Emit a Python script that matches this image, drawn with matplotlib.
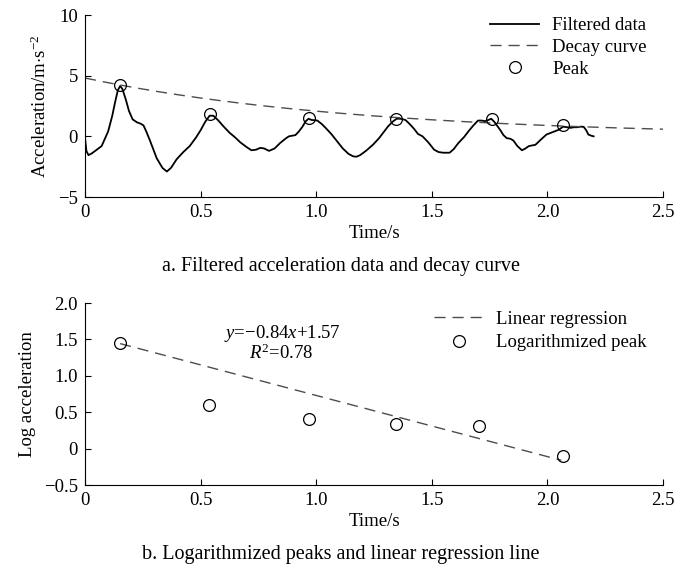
import numpy as np
import matplotlib.pyplot as plt

# filtered acceleration trace
time_s = [0.0, 0.006, 0.015, 0.03, 0.044, 0.072, 0.10, 0.118, 0.13, 0.142, 0.152, 0.162,
          0.177, 0.19, 0.206, 0.225, 0.24, 0.253, 0.265, 0.28, 0.31, 0.335, 0.354, 0.372,
          0.396, 0.425, 0.453, 0.48, 0.50, 0.52, 0.539, 0.555, 0.577, 0.60, 0.625,
          0.65, 0.672, 0.70, 0.72, 0.74, 0.758, 0.775, 0.796, 0.82, 0.844, 0.87,
          0.882, 0.91, 0.925, 0.939, 0.955, 0.967, 0.98, 1.005, 1.025, 1.043, 1.065,
          1.09, 1.115, 1.14, 1.16, 1.174, 1.19, 1.215, 1.245, 1.272, 1.29, 1.31,
          1.33, 1.348, 1.365, 1.386, 1.405, 1.424, 1.44, 1.46, 1.485, 1.51, 1.53,
          1.55, 1.577, 1.595, 1.615, 1.64, 1.66, 1.68, 1.70, 1.715, 1.73, 1.745,
          1.757, 1.77, 1.795, 1.81, 1.824, 1.84, 1.853, 1.87, 1.89, 1.905, 1.92,
          1.948, 1.97, 1.996, 2.03, 2.05, 2.068, 2.085, 2.10, 2.115, 2.129, 2.145,
          2.157, 2.168, 2.177, 2.19, 2.20]
accel = [-0.1, -1.2, -1.55, -1.4, -1.2, -0.8, 0.4, 1.7, 2.8, 3.8, 4.15, 3.9,
         3.0, 2.1, 1.4, 1.15, 1.05, 0.9, 0.4, -0.3, -1.8, -2.6, -2.9, -2.6,
         -1.9, -1.3, -0.8, -0.1, 0.5, 1.2, 1.7, 1.7, 1.3, 0.8, 0.3,
         -0.1, -0.5, -0.9, -1.15, -1.1, -0.95, -1.0, -1.2, -1.0, -0.55, -0.15,
         0.0, 0.1, 0.4, 0.75, 1.25, 1.45, 1.35, 1.3, 1.0, 0.65, 0.2,
         -0.4, -1.0, -1.45, -1.65, -1.68, -1.55, -1.2, -0.7, -0.15, 0.3, 0.8,
         1.2, 1.45, 1.45, 1.35, 1.0, 0.6, 0.2, 0.0, -0.5, -1.1, -1.3,
         -1.35, -1.35, -1.05, -0.55, -0.05, 0.45, 0.9, 1.3, 1.3, 1.25, 1.35,
         1.45, 1.2, 0.55, 0.1, -0.15, -0.2, -0.35, -0.8, -1.15, -1.0, -0.8,
         -0.7, -0.3, 0.15, 0.4, 0.55, 0.8, 0.75, 0.7, 0.75, 0.75, 0.8,
         0.78, 0.5, 0.15, 0.05, 0.0]

peak_t = [0.152, 0.539, 0.967, 1.344, 1.761, 2.068]
peak_a = [4.2, 1.85, 1.5, 1.4, 1.45, 0.9]

log_t = [0.152, 0.537, 0.967, 1.344, 1.704, 2.068]
log_a = [1.45, 0.605, 0.41, 0.34, 0.31, -0.10]

# fit shown in panel b
slope = -0.84
intercept = 1.57
fit_x = [0.152, 2.06]

plt.rcParams['font.family'] = ['Liberation Serif']
plt.rcParams['mathtext.fontset'] = 'custom'
plt.rcParams['mathtext.rm'] = 'Liberation Serif'
plt.rcParams['mathtext.it'] = 'Liberation Serif:italic'
plt.rcParams['font.size'] = 13.5

fig = plt.figure(figsize=(6.82, 5.70), dpi=100)
W, H = 682, 570
def box(l, t, r, b):
    return [l / W, 1 - b / H, (r - l) / W, (b - t) / H]

ax1 = fig.add_axes(box(85, 15, 663, 197))
ax2 = fig.add_axes(box(85, 303, 663, 485))

dash_col = '#4d4d4d'
dash = (0, (8, 5))
ticks_x = [0, 0.5, 1.0, 1.5, 2.0, 2.5]
ticks_x_lab = ['0', '0.5', '1.0', '1.5', '2.0', '2.5']

# panel a
ax1.plot(time_s, accel, color='black', lw=1.3, label='Filtered data')
tt = np.linspace(0, 2.5, 200)
ax1.plot(tt, np.exp(intercept + slope * tt), ls=dash, color=dash_col, lw=1.0,
         label='Decay curve')
ax1.plot(peak_t, peak_a, 'o', mfc='none', mec='black', ms=8.5, mew=0.9, ls='none',
         label='Peak')
ax1.set_xlim(0, 2.5)
ax1.set_ylim(-5, 10)
ax1.set_xticks(ticks_x)
ax1.set_xticklabels(ticks_x_lab)
ax1.set_yticks([-5, 0, 5, 10])
ax1.set_yticklabels(['\u22125', '0', '5', '10'])
ax1.set_xlabel('Time/s', labelpad=3)
ax1.set_ylabel(r'Acceleration/m$\cdot$s$^{-2}$', labelpad=6)
ax1.legend(loc='upper right', frameon=False, handlelength=2.6, handletextpad=0.7,
           borderaxespad=0.0, labelspacing=0.25, bbox_to_anchor=(0.985, 1.03))
fig.text(0.5, 1 - 266 / H, 'a. Filtered acceleration data and decay curve',
         ha='center', va='center', fontsize=14.5)

# panel b
fx = np.array(fit_x)
ax2.plot(fx, slope * fx + intercept, ls=dash, color=dash_col, lw=1.0,
         label='Linear regression')
ax2.plot(log_t, log_a, 'o', mfc='none', mec='black', ms=8.5, mew=0.9, ls='none',
         label='Logarithmized peak')
ax2.set_xlim(0, 2.5)
ax2.set_ylim(-0.5, 2.0)
ax2.set_xticks(ticks_x)
ax2.set_xticklabels(ticks_x_lab)
ax2.set_yticks([-0.5, 0, 0.5, 1.0, 1.5, 2.0])
ax2.set_yticklabels(['\u22120.5', '0', '0.5', '1.0', '1.5', '2.0'])
ax2.set_xlabel('Time/s', labelpad=3)
ax2.set_ylabel('Log acceleration', labelpad=6)
ax2.legend(loc='upper right', frameon=False, handlelength=2.6, handletextpad=0.7,
           borderaxespad=0.0, labelspacing=0.35, bbox_to_anchor=(0.985, 1.0))
ax2.text(0.34, 0.835, '$y$=\u22120.84$x$+1.57', transform=ax2.transAxes,
         ha='center', va='center')
ax2.text(0.34, 0.725, '$R^2$=0.78', transform=ax2.transAxes, ha='center', va='center')
fig.text(0.5, 1 - 554 / H, 'b. Logarithmized peaks and linear regression line',
         ha='center', va='center', fontsize=14.5)

for ax in (ax1, ax2):
    ax.spines['top'].set_visible(False)
    ax.spines['right'].set_visible(False)
    ax.tick_params(direction='in', length=4, width=0.8, pad=5)

fig.savefig('out.png', dpi=100)
